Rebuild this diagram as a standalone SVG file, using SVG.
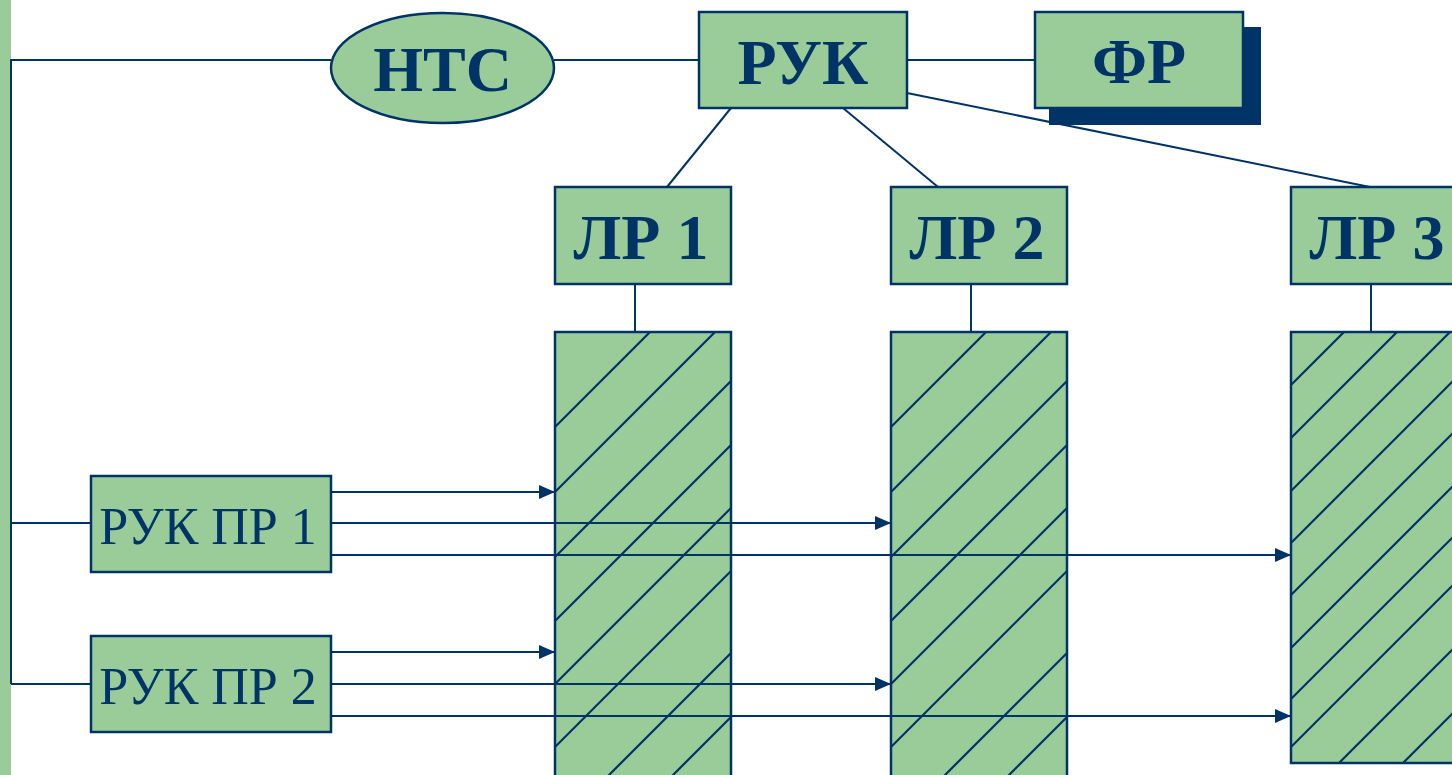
<svg xmlns="http://www.w3.org/2000/svg" width="1452" height="775" viewBox="0 0 1452 775">
  <style>
    .box { fill: #99CC99; stroke: #003366; stroke-width: 2.5; }
    .area { fill: #99CC99; }
    .frame { fill: none; stroke: #003366; stroke-width: 2.5; }
    .hatch { fill: none; stroke: #003366; stroke-width: 2.2; }
    .line { fill: none; stroke: #003366; stroke-width: 2; }
    .arrow { fill: none; stroke: #003366; stroke-width: 2; marker-end: url(#head); }
    .title { font-family: "Liberation Serif", "Times New Roman", serif; font-weight: bold; font-size: 64px; fill: #003366; text-anchor: middle; }
    .label { font-family: "Liberation Serif", "Times New Roman", serif; font-size: 52px; fill: #003366; text-anchor: middle; }
  </style>
  <defs>
    <clipPath id="clip-1"><rect x="555" y="332" width="176" height="460"/></clipPath>
    <clipPath id="clip-2"><rect x="891" y="332" width="176" height="460"/></clipPath>
    <clipPath id="clip-3"><rect x="1291" y="332" width="176" height="431"/></clipPath>
    <marker id="head" markerUnits="userSpaceOnUse" markerWidth="16" markerHeight="16" refX="16" refY="8" orient="auto">
      <path d="M0,1 L16,8 L0,15 Z" fill="#003366"/>
    </marker>
  </defs>

  <!-- side bar -->
  <rect x="0" y="0" width="11" height="775" fill="#99CC99"/>

  <!-- hatched work areas: 45° lines, each path segment is x + y = const -->
  <g id="area-1">
    <rect class="area" x="555" y="332" width="176" height="460"/>
    <path class="hatch" clip-path="url(#clip-1)" d="M182,800 L682,300 M247,800 L747,300 M312,800 L812,300 M376,800 L876,300 M439,800 L939,300 M502,800 L1002,300 M584,800 L1084,300 M648,800 L1148,300"/>
    <rect class="frame" x="555" y="332" width="176" height="460"/>
  </g>
  <g id="area-2">
    <rect class="area" x="891" y="332" width="176" height="460"/>
    <path class="hatch" clip-path="url(#clip-2)" d="M518,800 L1018,300 M583,800 L1083,300 M648,800 L1148,300 M712,800 L1212,300 M775,800 L1275,300 M838,800 L1338,300 M920,800 L1420,300 M984,800 L1484,300"/>
    <rect class="frame" x="891" y="332" width="176" height="460"/>
  </g>
  <g id="area-3">
    <rect class="area" x="1291" y="332" width="176" height="431"/>
    <path class="hatch" clip-path="url(#clip-3)" d="M876,800 L1376,300 M929,800 L1429,300 M982,800 L1482,300 M1034,800 L1534,300 M1086,800 L1586,300 M1139,800 L1639,300 M1190,800 L1690,300 M1238,800 L1738,300 M1302,800 L1802,300 M1366,800 L1866,300"/>
    <rect class="frame" x="1291" y="332" width="176" height="431"/>
  </g>

  <!-- connectors -->
  <g id="connectors">
    <path class="line" d="M11,60 H331"/>
    <path class="line" d="M11,59 V684"/>
    <path class="line" d="M11,523 H91"/>
    <path class="line" d="M11,684 H91"/>
    <path class="line" d="M554,60 H699"/>
    <path class="line" d="M907,60 H1035"/>
    <path class="line" d="M907,93 L1370,187"/>
    <path class="line" d="M731,108 L667,187"/>
    <path class="line" d="M843,108 L938,187"/>
    <path class="line" d="M635,284 V332"/>
    <path class="line" d="M971,284 V332"/>
    <path class="line" d="M1371,284 V332"/>
    <path class="arrow" d="M331,492 H555"/>
    <path class="arrow" d="M331,523 H891"/>
    <path class="arrow" d="M331,555 H1291"/>
    <path class="arrow" d="M331,652 H555"/>
    <path class="arrow" d="M331,684 H891"/>
    <path class="arrow" d="M331,716 H1291"/>
  </g>

  <g id="nts">
    <ellipse class="box" cx="442.5" cy="68" rx="111.5" ry="55"/>
    <text class="title" x="442.5" y="91">НТС</text>
  </g>

  <g id="ruk">
    <rect class="box" x="699" y="12" width="208" height="96"/>
    <text class="title" x="803" y="84">РУК</text>
  </g>

  <g id="fr">
    <rect x="1049" y="27" width="212" height="98" fill="#003366"/>
    <rect class="box" x="1035" y="12" width="208" height="96"/>
    <text class="title" x="1139" y="83">ФР</text>
  </g>

  <g id="lr-1">
    <rect class="box" x="555" y="187" width="176" height="97"/>
    <text class="title" x="641" y="259">ЛР 1</text>
  </g>

  <g id="lr-2">
    <rect class="box" x="891" y="187" width="176" height="97"/>
    <text class="title" x="977" y="259">ЛР 2</text>
  </g>

  <g id="lr-3">
    <rect class="box" x="1291" y="187" width="176" height="97"/>
    <text class="title" x="1377" y="259">ЛР 3</text>
  </g>

  <g id="ruk-pr-1">
    <rect class="box" x="91" y="476" width="240" height="96"/>
    <text class="label" x="208" y="544">РУК ПР 1</text>
  </g>

  <g id="ruk-pr-2">
    <rect class="box" x="91" y="636" width="240" height="96"/>
    <text class="label" x="208" y="704">РУК ПР 2</text>
  </g>
</svg>
